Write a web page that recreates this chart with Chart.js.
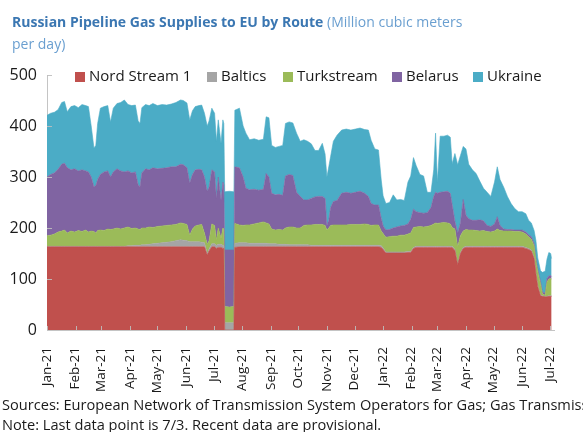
<!DOCTYPE html>
<html>
<head>
<meta charset="utf-8">
<script src="https://cdn.jsdelivr.net/npm/chart.js@4.4.0/dist/chart.umd.min.js"></script>
<style>
  html, body { margin: 0; padding: 0; background: #fff; }
  #wrap { position: relative; width: 583px; height: 432px; overflow: hidden; font-family: "Open Sans", "Noto Sans", sans-serif; }
  #chart { position: absolute; left: 0; top: 0; }
  #title { position: absolute; left: 12px; top: 11px; width: 462px; font-size: 14px; line-height: 22px; color: #6a9fd0; }
  #title b { color: #3b77b2; font-weight: 700; }
  #notes { position: absolute; left: 2px; top: 394px; width: 620px; font-size: 14.6px; line-height: 20px; color: #1a1a1a; white-space: nowrap; }
</style>
</head>
<body>
<div id="wrap">
  <canvas id="chart" width="583" height="432"></canvas>
  <div id="title"><b>Russian Pipeline Gas Supplies to EU by Route</b> (Million cubic meters per day)</div>
  <div id="notes">Sources: European Network of Transmission System Operators for Gas; Gas Transmission System Operator of Ukraine.<br>Note: Last data point is 7/3. Recent data are provisional.</div>
</div>
<script>
// ---- DATA (million cubic meters per day) ----
// Day offsets counted from 2021-01-01 (last point 2022-07-03)
const days = [0,4,8,12,16,19,22,26,30,34,38,42,45,48,51,53,55,58,62,66,69,72,76,80,84,
  88,92,96,99,101,103,107,111,115,120,125,130,135,140,145,148,152,155,158,161,165,168,171,174,176,179,182,184,186,189,191,192,
  193,198,203,204,209,213,216,220,225,230,235,238,241,244,248,252,256,259,263,267,271,275,279,283,287,291,295,299,302,304,306,308,311,315,320,325,330,335,340,345,349,352,356,360,363,
  365,368,372,376,380,384,388,392,395,398,401,405,409,413,417,420,422,424,427,431,435,438,440,443,446,449,452,455,458,462,466,470,474,478,482,486,489,492,496,500,504,508,512,516,520,523,526,529,531,533,536,538,541,543,545,547,548];

const seriesNames = ["Nord Stream 1", "Baltics", "Turkstream", "Belarus", "Ukraine"];

const nordStream = [163,163,163,163,163,163,163,163,163,163,163,163,163,163,163,163,163,163,163,163,163,163,163,163,163,
  163,163,163,163,163,163,163,163,163,163,163,163,163,163,163,163,163,163,163,163,163,163,163,147,155,163,163,160,162,162,160,160,
  0,0,0,162,163,163,163,163,163,163,163,163,163,163,163,163,163,163,163,163,163,163,163,163,163,163,163,163,163,163,163,163,163,163,163,163,163,163,163,163,163,163,163,163,162,158,
  151,151,151,151,151,151,152,152,160,162,162,162,162,162,162,162,162,162,162,162,162,162,156,128,150,160,162,162,162,162,162,162,162,162,162,162,162,162,162,162,162,162,162,160,158,155,140,110,85,67,66,65,65,66,66,66,66];

const baltics = [1,1,1,1,1,1,1,1,1,1,1,1,1,1,1,1,1,1,1,1,1,1,1,1,1,
  2,2,3,3,3,4,4,5,6,7,8,9,10,12,14,13,12,10,10,10,10,9,8,3,4,6,6,6,6,6,6,6,
  14,14,14,8,8,8,8,7,7,7,7,7,6,6,6,5,5,5,4,4,4,4,4,4,3,3,3,3,3,3,3,3,3,3,3,3,3,3,3,3,3,3,3,3,3,3,
  2,2,2,2,2,2,2,2,2,2,2,2,2,2,2,2,2,2,2,2,2,2,2,2,2,2,2,2,2,2,2,2,2,2,2,2,2,2,2,2,2,2,2,2,2,2,2,2,2,2,1,1,1,1,1,1,1,1];

const turkstream = [21,22,24,28,30,32,26,30,28,31,29,32,28,30,29,26,31,32,31,34,33,34,36,34,36,
  37,34,34,32,31,33,33,34,32,33,33,33,33,32,33,33,32,13,25,31,33,35,19,18,16,39,36,10,32,12,34,32,
  32,31,32,39,35,34,35,36,38,40,42,40,39,29,27,29,28,32,35,35,33,33,38,39,40,41,41,41,39,30,34,39,40,40,40,40,41,41,41,42,41,39,40,40,29,
  28,29,30,31,31,33,33,34,36,39,38,39,38,39,41,44,46,45,46,47,46,44,37,40,33,33,32,33,32,32,31,30,31,29,28,30,34,31,30,30,30,29,29,28,26,23,21,23,23,27,21,4,2,28,33,34,33];

const belarus = [115,119,120,123,131,131,128,120,124,117,121,116,118,106,88,93,100,109,115,114,103,112,116,114,110,
  110,109,110,87,84,108,116,112,117,113,113,113,114,113,115,115,111,102,107,110,109,107,110,104,105,106,105,82,100,75,90,87,
  111,112,111,111,112,95,72,69,68,64,64,97,92,70,69,69,68,102,103,101,70,62,50,49,52,54,55,55,53,9,15,35,46,48,62,64,61,63,65,60,55,43,39,39,25,
  15,14,14,16,18,18,19,20,27,36,30,27,27,27,35,54,60,59,60,60,62,60,45,15,27,25,62,28,22,19,20,22,19,12,11,14,24,10,4,3,3,3,3,4,4,4,5,5,5,5,5,4,4,7,6,6,5];

const ukraine = [121,120,119,117,121,121,110,124,124,124,128,128,128,100,76,79,110,130,128,128,108,125,128,134,141,
  130,132,131,125,124,128,126,126,126,124,125,123,123,126,126,126,127,124,125,124,125,127,125,128,130,121,115,112,112,111,122,120,
  114,115,114,111,117,100,108,98,99,98,98,111,116,94,93,94,98,103,103,103,116,108,118,115,107,91,90,104,87,95,105,100,118,128,124,124,124,124,124,125,130,124,110,108,75,
  59,52,53,65,53,52,49,82,85,101,90,75,73,40,30,52,116,22,110,109,110,110,80,133,134,132,104,130,107,99,92,76,64,65,59,82,98,90,82,65,51,42,36,36,36,28,27,25,35,22,21,38,43,38,46,43,35];

const startDate = Date.UTC(2021, 0, 1);
const monthStarts = []; // [year, monthIndex] of each x-axis tick
for (let m = 0; m <= 18; m++) monthStarts.push([2021 + Math.floor(m / 12), m % 12]);
const monthNames = ["Jan","Feb","Mar","Apr","May","Jun","Jul","Aug","Sep","Oct","Nov","Dec"];
const monthLabels = monthStarts.map(([y, m]) => monthNames[m] + "-" + String(y).slice(2));
const monthTickValues = monthStarts.map(([y, m]) => Math.round((Date.UTC(y, m, 1) - startDate) / 86400000));

const colors = ["#C0504D", "#A5A5A5", "#9BBB59", "#8064A2", "#4BACC6"];
const allSeries = [nordStream, baltics, turkstream, belarus, ukraine];

const datasets = allSeries.map((arr, k) => ({
  label: seriesNames[k],
  data: days.map((d, i) => ({ x: d, y: arr[i] })),
  backgroundColor: colors[k],
  borderColor: colors[k],
  borderWidth: 0.6,
  pointRadius: 0,
  tension: 0,
  fill: k === 0 ? 'origin' : '-1'
}));

const FONT = '"Open Sans", "Noto Sans", sans-serif';

const overlay = {
  id: 'overlay',
  afterDatasetsDraw(chart) {
    const { ctx, chartArea: a, scales: { x, y } } = chart;
    ctx.save();
    ctx.strokeStyle = 'rgba(190,190,190,0.9)';
    ctx.lineWidth = 1;
    x.ticks.forEach(t => {
      const px = Math.round(x.getPixelForValue(t.value)) + 0.5;
      ctx.beginPath(); ctx.moveTo(px, a.bottom); ctx.lineTo(px, a.bottom - 4); ctx.stroke();
    });
    y.ticks.forEach(t => {
      if (t.value === 0) return;
      const py = Math.round(y.getPixelForValue(t.value)) + 0.5;
      ctx.beginPath(); ctx.moveTo(a.left, py); ctx.lineTo(a.left + 5, py); ctx.stroke();
    });
    // legend
    ctx.font = '15px ' + FONT;
    ctx.textBaseline = 'middle';
    ctx.textAlign = 'left';
    const starts = [75, 207, 283, 392, 473];
    const ly = 77;
    chart.data.datasets.forEach((ds, i) => {
      ctx.fillStyle = ds.backgroundColor;
      ctx.fillRect(starts[i], ly - 5, 10, 10);
      ctx.fillStyle = '#1a1a1a';
      ctx.fillText(ds.label, starts[i] + 14, ly);
    });
    ctx.restore();
  }
};

new Chart(document.getElementById('chart'), {
  type: 'line',
  data: { datasets },
  plugins: [overlay],
  options: {
    responsive: false,
    animation: false,
    events: [],
    layout: { padding: { left: 0, top: 75, right: 5, bottom: 2 } },
    plugins: { legend: { display: false }, tooltip: { enabled: false }, title: { display: false } },
    scales: {
      x: {
        type: 'linear',
        min: 0,
        max: 551,
        afterBuildTicks(scale) { scale.ticks = monthTickValues.map(v => ({ value: v })); },
        afterFit(scale) { scale.height = 100; },
        grid: { display: false, drawTicks: false },
        border: { display: true, color: '#c4c4c4', width: 1 },
        ticks: {
          autoSkip: false,
          minRotation: 90,
          maxRotation: 90,
          padding: 17,
          color: '#1a1a1a',
          font: { size: 13.5, family: FONT },
          callback: (v, i) => monthLabels[i]
        }
      },
      y: {
        stacked: true,
        min: 0,
        max: 500,
        afterFit(scale) { scale.width = 47; },
        grid: { display: false, drawTicks: false },
        border: { display: true, color: '#c4c4c4', width: 1 },
        ticks: {
          stepSize: 100,
          padding: 10,
          color: '#1a1a1a',
          font: { size: 16, family: FONT }
        }
      }
    }
  }
});
</script>
</body>
</html>
